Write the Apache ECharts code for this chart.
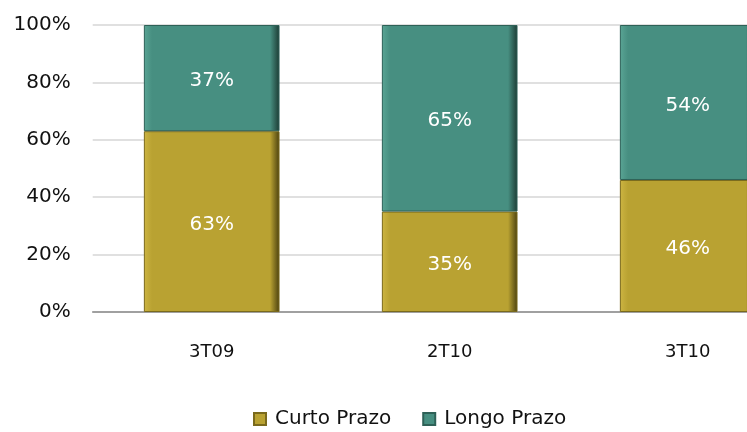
<!DOCTYPE html>
<html>
<head>
<meta charset="utf-8">
<script src="https://cdn.jsdelivr.net/npm/echarts@6/dist/echarts.min.js"></script>
<style>
  html, body { margin: 0; padding: 0; background: #fff; }
  #chart { width: 747px; height: 432px; }
</style>
</head>
<body>
<div id="chart"></div>
<script>
// dados
const categories = ['3T09', '2T10', '3T10'];
const curtoPrazo = [63, 35, 46];
const longoPrazo = [37, 65, 54];
const yTicks = [0, 20, 40, 60, 80, 100];

// cor "biselada" tipo Excel
function bevel(light, base, dark) {
  return {
    type: 'linear', x: 0, y: 0, x2: 1, y2: 0,
    colorStops: [
      { offset: 0, color: light },
      { offset: 0.06, color: base },
      { offset: 0.93, color: base },
      { offset: 1, color: dark }
    ]
  };
}

const chart = echarts.init(document.getElementById('chart'));

const labelStyle = {
  show: true,
  position: 'inside',
  offset: [0, 3],
  color: '#fff',
  fontSize: 20,
  fontFamily: 'DejaVu Sans',
  formatter: p => p.value + '%'
};

chart.setOption({
  animation: false,
  grid: {
    left: 92.7, width: 714, top: 25, bottom: 120,
    containLabel: false,
    outerBoundsMode: 'none'
  },
  legend: {
    left: 253,
    top: 409,
    padding: 0,
    itemWidth: 12,
    itemHeight: 12,
    itemGap: 31,
    icon: 'rect',
    textStyle: { fontSize: 20, fontFamily: 'DejaVu Sans', color: '#111', padding: [0, 0, 0, 4] },
    data: ['Curto Prazo', 'Longo Prazo']
  },
  xAxis: {
    type: 'category',
    data: categories,
    axisLine: { lineStyle: { color: '#8a8a8a', width: 1.5 } },
    axisTick: { show: false },
    axisLabel: { margin: 31, fontSize: 18, fontFamily: 'DejaVu Sans', color: '#111' }
  },
  yAxis: {
    type: 'value',
    min: yTicks[0],
    max: yTicks[yTicks.length - 1],
    interval: 20,
    axisLine: { show: false },
    axisTick: { show: false },
    splitLine: { lineStyle: { color: '#d6d6d6', width: 1.5 } },
    axisLabel: { margin: 22, fontSize: 20, fontFamily: 'DejaVu Sans', color: '#111', formatter: '{value}%' }
  },
  series: [
    {
      name: 'Curto Prazo',
      type: 'bar',
      stack: 'total',
      barCategoryGap: '43%',
      data: curtoPrazo,
      label: labelStyle,
      itemStyle: {
        color: bevel('#cdb542', '#b9a232', '#4a400f'),
        borderColor: '#7a6a1c',
        borderWidth: 1
      }
    },
    {
      name: 'Longo Prazo',
      type: 'bar',
      stack: 'total',
      barCategoryGap: '43%',
      data: longoPrazo,
      label: labelStyle,
      itemStyle: {
        color: bevel('#5aa595', '#478f81', '#1c3a33'),
        borderColor: '#2e6157',
        borderWidth: 1
      }
    }
  ]
});
</script>
</body>
</html>
